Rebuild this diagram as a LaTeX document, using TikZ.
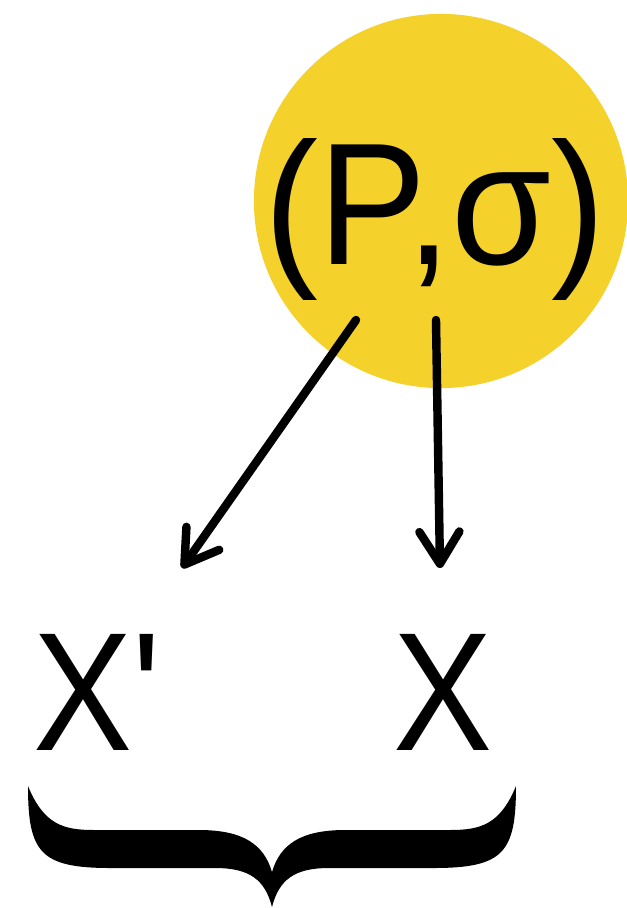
\documentclass[tikz,border=0pt]{standalone}
\usepackage{fontspec}
\newfontfamily\lsans{Liberation Sans}
\usetikzlibrary{arrows.meta}
\definecolor{sun}{HTML}{F4D22B}
\begin{document}
\begin{tikzpicture}[x=0.01cm,y=-0.01cm,
  bigtxt/.style={inner sep=0pt, font=\lsans\fontsize{48}{56}\selectfont},
  arr/.style={line width=2.4pt, line cap=round,
    -{Straight Barb[length=3.2mm,width=4mm,line cap=round,line join=round]}}]
\useasboundingbox (0,0) rectangle (627,908);
\node[circle, fill=sun, minimum size=3.74cm, inner sep=0pt] (c) at (441,201) {};
\node[bigtxt, anchor=base] (p) at (435,264) {\scalebox{0.96}[1.03]{(P,σ)}};
\node[bigtxt, anchor=base west] (xp) at (33,750) {\scalebox{0.88}[1]{X'}};
\node[bigtxt, anchor=base west] (x) at (393,750) {\scalebox{0.88}[1]{X}};
\coordinate (a1s) at (356,320);
\coordinate (a1e) at (182,568);
\coordinate (a2s) at (436,320);
\coordinate (a2e) at (440,568);
\draw[arr] (a1s) -- (a1e);
\draw[arr] (a2s) -- (a2e);
\fill (28,786) .. controls (28,852) and (40,868) .. (110,868) -- (215,868)
  .. controls (250,868) and (265,880) .. (272,907)
  .. controls (279,880) and (294,868) .. (329,868) -- (434,868)
  .. controls (504,868) and (516,852) .. (516,786)
  .. controls (500,825) and (480,830) .. (450,830) -- (345,830)
  .. controls (300,830) and (280,845) .. (272,872)
  .. controls (264,845) and (244,830) .. (199,830) -- (94,830)
  .. controls (64,830) and (44,825) .. (28,786) -- cycle;
\end{tikzpicture}
\end{document}
